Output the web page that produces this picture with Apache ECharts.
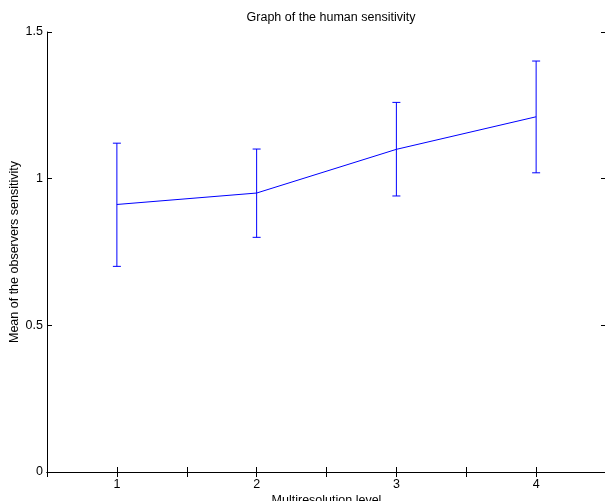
<!DOCTYPE html>
<html>
<head>
<meta charset="utf-8">
<script src="https://cdn.jsdelivr.net/npm/echarts@6/dist/echarts.min.js"></script>
<style>
html,body{margin:0;padding:0;background:#fff;}
#c{width:605px;height:501px;}
</style>
</head>
<body>
<div id="c"></div>
<script>
const levels = [1, 2, 3, 4];
const means = [0.912, 0.951, 1.100, 1.211];
const upper = [1.121, 1.101, 1.260, 1.401];
const lower = [0.701, 0.800, 0.941, 1.020];
const xTickLabels = ['1', '2', '3', '4'];
const yTicks = [0, 0.5, 1, 1.5];

const FONT = 'Liberation Sans';
const FS = 12.5;
const chart = echarts.init(document.getElementById('c'), null, {renderer: 'canvas'});

const lineData = levels.map((x, i) => [x, means[i]]);
const errData = levels.map((x, i) => [x, lower[i], upper[i]]);

const tickStyle = {show: true, inside: true, length: 5, lineStyle: {color: '#000', width: 1}};
const axLine = {show: true, lineStyle: {color: '#000', width: 1}};

chart.setOption({
  animation: false,
  backgroundColor: '#fff',
  title: {
    text: 'Graph of the human sensitivity',
    left: 326, top: 6, textAlign: 'center',
    textStyle: {fontFamily: FONT, fontSize: FS, fontWeight: 'normal', color: '#000'}
  },
  grid: {left: 47, top: 32, right: -1, bottom: 29, containLabel: false, outerBoundsMode: 'none'},
  xAxis: [{
    type: 'value', min: 0.5, max: 4.5, interval: 0.5,
    axisLine: axLine, axisTick: tickStyle, splitLine: {show: false},
    axisLabel: {
      fontFamily: FONT, fontSize: FS, color: '#000', margin: 6,
      formatter: v => { const i = levels.indexOf(v); return i >= 0 ? xTickLabels[i] : ''; }
    },
    name: 'Multiresolution level', nameLocation: 'middle', nameGap: 22, nameMoveOverlap: false,
    nameTextStyle: {fontFamily: FONT, fontSize: FS, color: '#000'}
  }, {
    type: 'value', position: 'top', min: 0.5, max: 4.5, interval: 0.5,
    axisLine: axLine, axisTick: tickStyle, splitLine: {show: false}, axisLabel: {show: false}
  }],
  yAxis: [{
    type: 'value', min: 0, max: 1.5, interval: 0.5,
    axisLine: axLine, axisTick: tickStyle, splitLine: {show: false},
    axisLabel: {
      fontFamily: FONT, fontSize: FS, color: '#000', margin: 4,
      formatter: v => yTicks.indexOf(v) >= 0 ? String(v) : ''
    },
    name: 'Mean of the observers sensitivity', nameLocation: 'middle', nameGap: 26, nameMoveOverlap: false,
    nameTextStyle: {fontFamily: FONT, fontSize: FS, color: '#000'}
  }, {
    type: 'value', position: 'right', min: 0, max: 1.5, interval: 0.5,
    axisLine: axLine, axisTick: tickStyle, splitLine: {show: false}, axisLabel: {show: false}
  }],
  series: [{
    type: 'line', data: lineData, symbol: 'none',
    lineStyle: {color: '#0000ff', width: 1}, z: 3
  }, {
    type: 'custom', data: errData, z: 4,
    renderItem: function (params, api) {
      const x = api.value(0);
      const lo = api.coord([x, api.value(1)]);
      const hi = api.coord([x, api.value(2)]);
      const w = 4;
      const st = {stroke: '#0000ff', lineWidth: 1};
      return {
        type: 'group',
        children: [
          {type: 'line', shape: {x1: lo[0], y1: lo[1], x2: hi[0], y2: hi[1]}, style: st},
          {type: 'line', shape: {x1: lo[0] - w, y1: lo[1], x2: lo[0] + w, y2: lo[1]}, style: st},
          {type: 'line', shape: {x1: hi[0] - w, y1: hi[1], x2: hi[0] + w, y2: hi[1]}, style: st}
        ]
      };
    }
  }]
});
</script>
</body>
</html>
